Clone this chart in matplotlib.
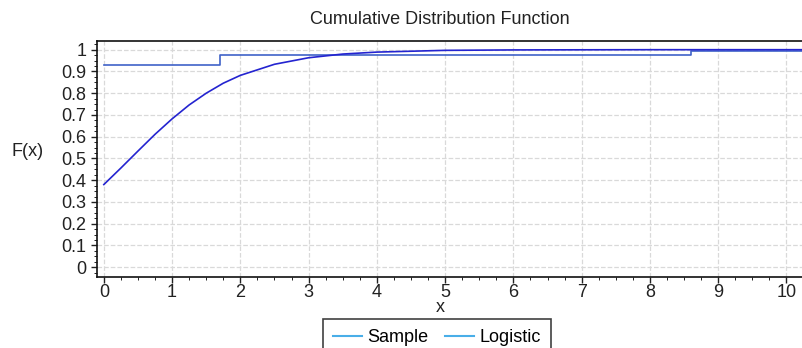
import matplotlib.pyplot as plt
from matplotlib.lines import Line2D
from matplotlib.ticker import AutoMinorLocator

plt.rcParams['font.family'] = ['Liberation Sans', 'DejaVu Sans']

# sample (empirical) CDF step values
sample_x = [0.0, 1.7, 8.6, 10.3]
sample_y = [0.93, 0.976, 0.995, 0.995]

# fitted logistic CDF
logistic_x = [0.0, 0.25, 0.5, 0.75, 1.0, 1.25, 1.5, 1.75, 2.0, 2.5, 3.0, 3.5, 4.0, 5.0, 6.0, 8.0, 10.3]
logistic_y = [0.380, 0.456, 0.534, 0.611, 0.682, 0.746, 0.800, 0.846, 0.882, 0.933,
              0.963, 0.980, 0.989, 0.997, 0.999, 1.0, 1.0]

x_ticks = list(range(0, 11))
y_ticks = [i / 10 for i in range(0, 11)]
y_labels = ['0', '0.1', '0.2', '0.3', '0.4', '0.5', '0.6', '0.7', '0.8', '0.9', '1']

fig = plt.figure(figsize=(8.03, 3.48), dpi=100)
ax = fig.add_axes([97 / 803, 1 - 277 / 348, 1 - 97 / 803 + 0.01, (277 - 41) / 348])

ax.step(sample_x, sample_y, where='post', color='#3f62c8', lw=1.2)
ax.plot(logistic_x, logistic_y, color='#2424d0', lw=1.2)

ax.set_xlim(-0.1, 10.36)
ax.set_ylim(-0.045, 1.04)
ax.set_xticks(x_ticks)
ax.set_yticks(y_ticks)
ax.set_yticklabels(y_labels)
ax.xaxis.set_minor_locator(AutoMinorLocator(4))
ax.yaxis.set_minor_locator(AutoMinorLocator(4))
ax.tick_params(labelsize=13, colors='#222222', length=4, width=1)
ax.tick_params(axis='x', pad=1)
ax.tick_params(which='minor', length=2)
ax.grid(True, color='#d9d9d9', linestyle='--', lw=0.9)
ax.set_axisbelow(True)
for s in ['left', 'bottom', 'top']:
    ax.spines[s].set_color('#111111')
    ax.spines[s].set_linewidth(1.2)
ax.spines['right'].set_visible(False)

fig.text(440 / 803, 1 - 20 / 348, 'Cumulative Distribution Function',
         ha='center', va='center', fontsize=13, color='#222222')
fig.text(28 / 803, 1 - 152 / 348, 'F(x)', ha='center', va='center', fontsize=13, color='#222222')
fig.text(440 / 803, 1 - 307 / 348, 'x', ha='center', va='center', fontsize=13, color='#222222')

handles = [Line2D([], [], color='#49aee8', lw=1.5), Line2D([], [], color='#49aee8', lw=1.5)]
leg = fig.legend(handles, ['Sample', 'Logistic'], loc='upper center', ncol=2,
                 bbox_to_anchor=(437 / 803, 1 - 319 / 348), fontsize=13, frameon=True,
                 fancybox=False, edgecolor='#111111', handlelength=1.6, handletextpad=0.3,
                 columnspacing=0.9, borderpad=0.55, borderaxespad=0)
leg.get_frame().set_linewidth(1.2)

fig.savefig('out.png', dpi=100)
